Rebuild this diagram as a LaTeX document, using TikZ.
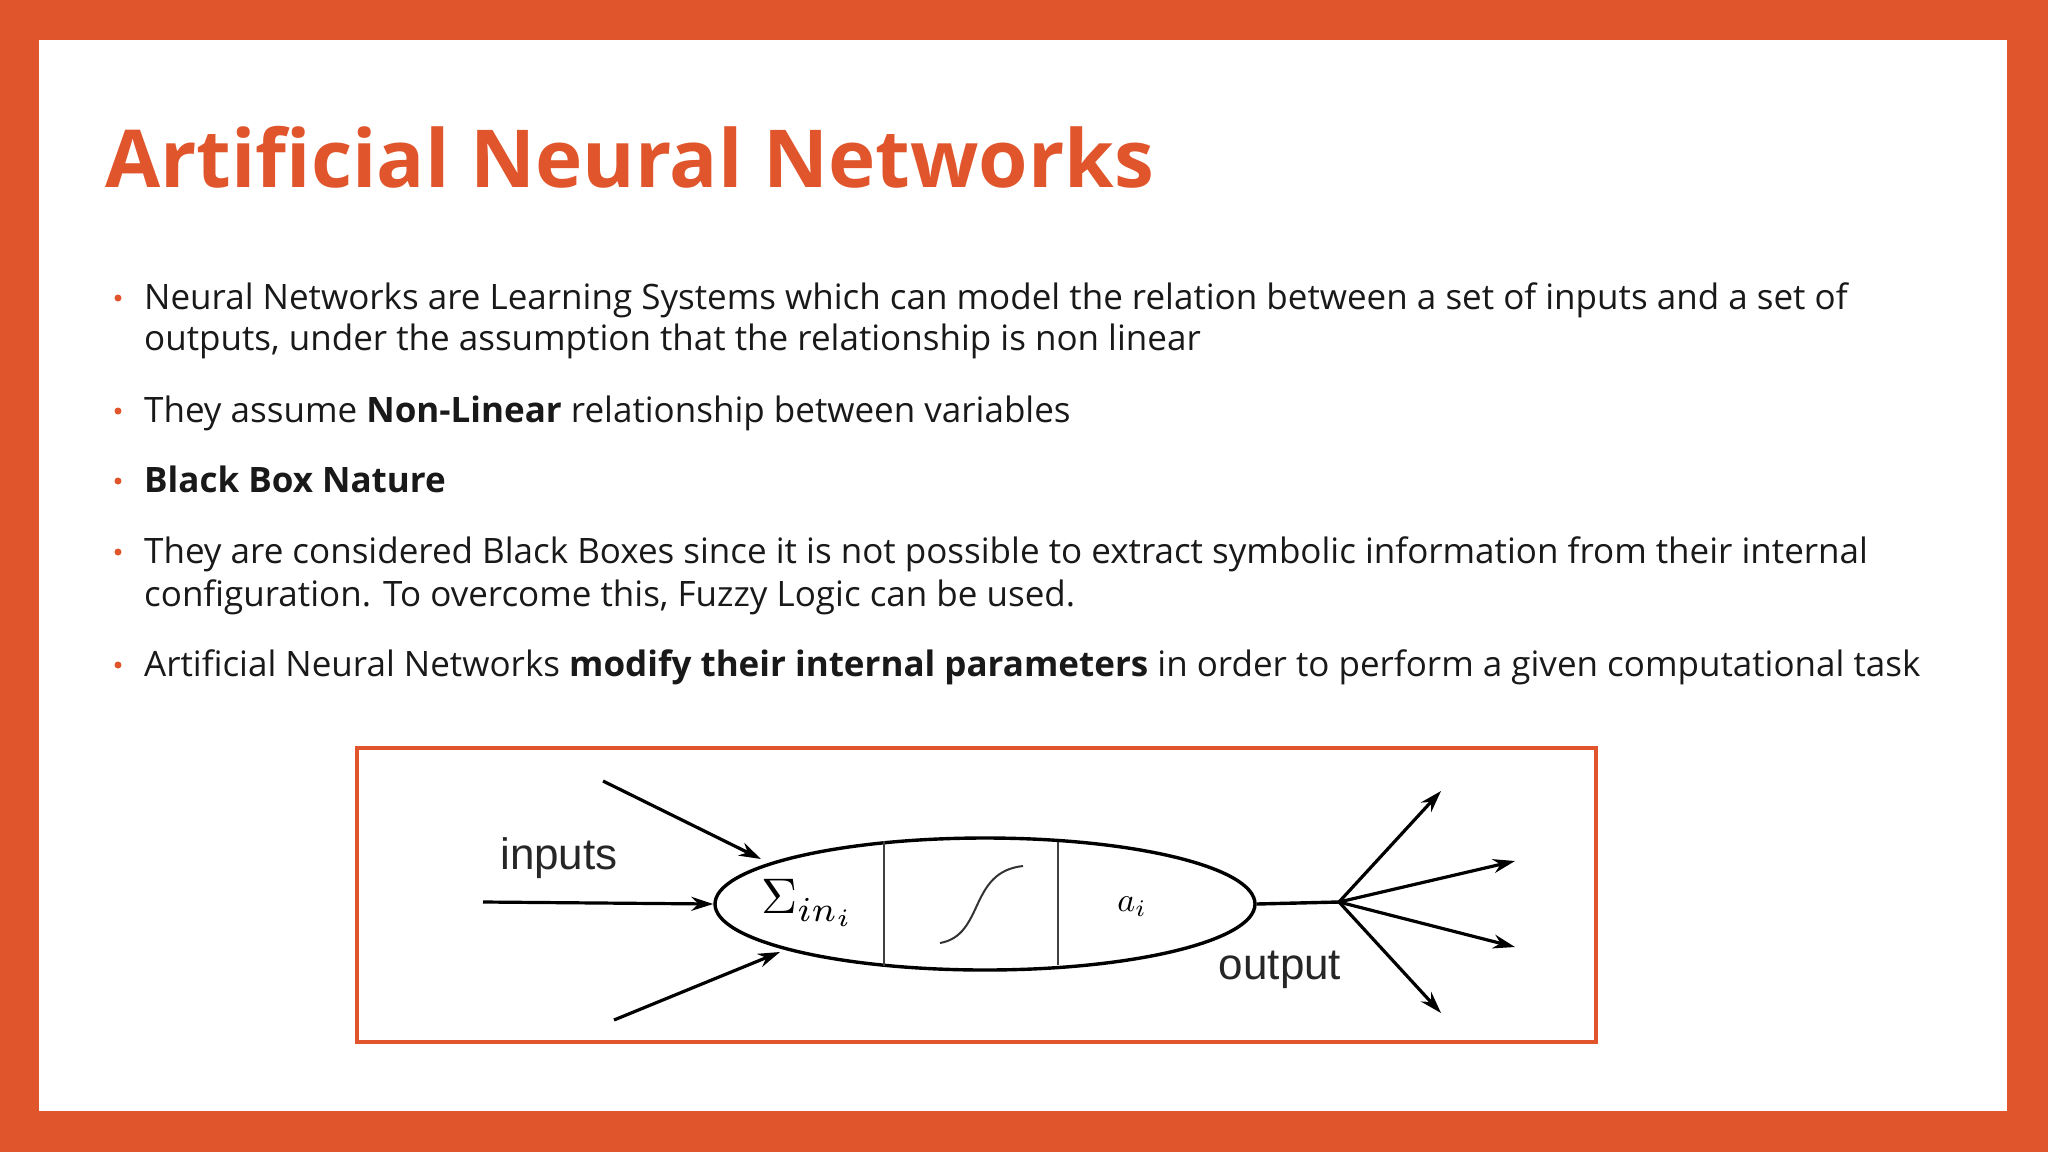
\documentclass[tikz,border=0pt]{standalone}
\usepackage{fontspec}
\setmainfont{Open Sans}
\newfontfamily\helv{Liberation Sans}
\usetikzlibrary{arrows.meta,shapes.geometric}
\definecolor{org}{HTML}{E0552B}
\tikzset{
  bul/.style={anchor=mid west,font=\fontsize{35}{42}\selectfont,inner sep=0,text=black!90},
  dot/.style={circle,fill=org,inner sep=0,minimum size=7},
  arr/.style={-{Stealth[length=22,width=14]},line width=3.2},
  lbl/.style={font=\helv\fontsize{44}{48}\selectfont,text=black!85}
}
\begin{document}
\begin{tikzpicture}[x=1pt,y=-1pt]
\useasboundingbox (0,0) rectangle (2048,1152);
\fill[org] (0,0) rectangle (2048,1152);
\fill[white] (39,40) rectangle (2007,1111);
\node[anchor=base west,inner sep=0,text=org,font=\fontsize{80}{86}\selectfont\bfseries] (title) at (105,187) {Artificial Neural Networks};
\foreach \y/\n in {298/d1,411/d2,481/d3,552/d4,665/d5}{\node[dot] (\n) at (118,\y) {};}
\node[bul] (b1) at (144,307) {Neural Networks are Learning Systems which can model the relation between a set of inputs and a set of};
\node[bul] (b1b) at (144,348) {outputs, under the assumption that the relationship is non linear};
\node[bul] (b2) at (144,420) {They assume \textbf{Non-Linear} relationship between variables};
\node[bul] (b3) at (144,490) {\textbf{Black Box Nature}};
\node[bul] (b4) at (144,561) {They are considered Black Boxes since it is not possible to extract symbolic information from their internal};
\node[bul] (b4b) at (144,604) {configuration. To overcome this, Fuzzy Logic can be used.};
\node[bul] (b5) at (144,674) {Artificial Neural Networks \textbf{modify their internal parameters} in order to perform a given computational task};
% diagram
\draw[org,line width=4] (357,748) rectangle (1596,1042);
\node[draw,ellipse,line width=3.4,minimum width=540,minimum height=132,inner sep=0] (ell) at (985,904) {};
\draw[line width=2.6,black!75] (884,841) -- (884,966);
\draw[line width=2.6,black!75] (1058,842) -- (1058,965);
\node (sig) at (808,903) {\scalebox{5}{$\Sigma_{in_i}$}};
\node (ai) at (1132,907) {\scalebox{3.4}{$a_i$}};
\draw[line width=2,black!80] (940,943) .. controls (985,935) and (968,872) .. (1023,866);
\coordinate (i1) at (603,781); \coordinate (i2) at (483,902); \coordinate (i3) at (614,1020);
\draw[arr] (i1) -- (761,859);
\draw[arr] (i2) -- (ell.west);
\draw[arr] (i3) -- (780,952);
\node[lbl] (inp) at (559,858) {inputs};
\node[lbl] (outp) at (1280,970) {output};
\coordinate (hub) at (1339,902);
\draw[line width=3.4] (ell.east) -- (hub);
\coordinate (o1) at (1441,791); \coordinate (o2) at (1515,861); \coordinate (o3) at (1515,947); \coordinate (o4) at (1441,1013);
\foreach \o in {o1,o2,o3,o4} \draw[arr] (hub) -- (\o);
\end{tikzpicture}
\end{document}
